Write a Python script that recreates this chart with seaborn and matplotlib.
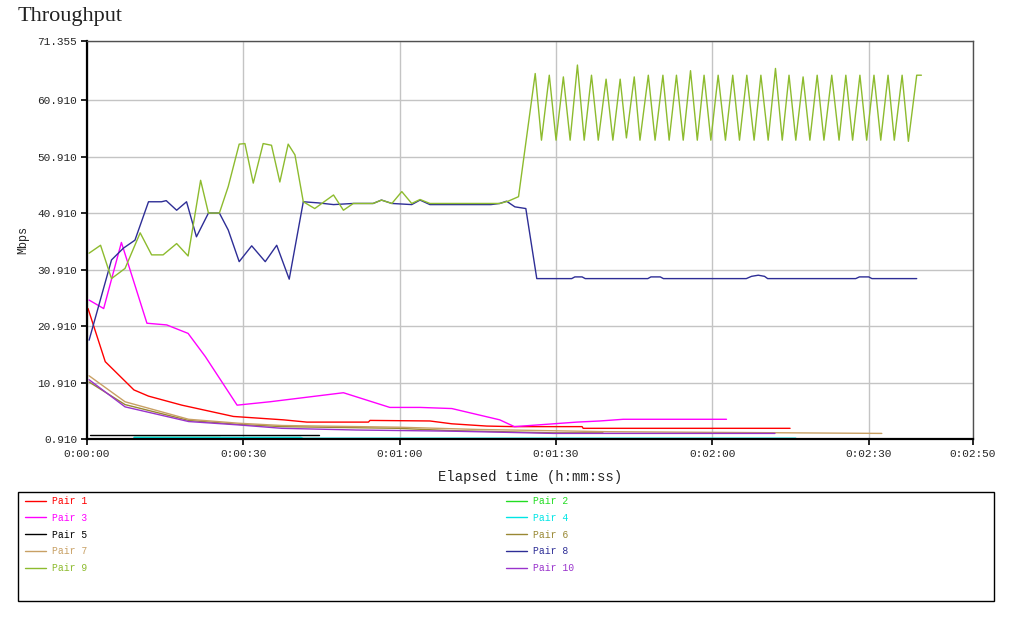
import matplotlib
matplotlib.use('Agg')
import matplotlib.pyplot as plt
import seaborn as sns
import pandas as pd
from matplotlib.patches import Rectangle
from matplotlib.lines import Line2D

# elapsed seconds / Mbps
pair1_t = [0.2, 3.5, 9.0, 11.8, 18.2, 28.1, 37.7, 42.2, 54.0, 54.3, 65.8, 70.0, 76.7, 81.8, 95.0, 95.2, 134.9]
pair1_v = [24.0, 14.6, 9.6, 8.5, 6.9, 4.9, 4.3, 3.9, 3.9, 4.2, 4.1, 3.6, 3.2, 3.1, 3.1, 2.8, 2.8]

pair2_t = [9.0, 25.5]
pair2_v = [1.3, 1.3]

pair3_t = [0.4, 3.2, 6.6, 11.5, 15.3, 19.4, 22.7, 28.8, 35.1, 49.2, 58.1, 63.9, 70.0, 79.2, 82.0,
           85.0, 89.5, 94.0, 98.4, 102.9, 122.7]
pair3_v = [25.5, 24.0, 35.7, 21.4, 21.1, 19.6, 15.5, 6.9, 7.5, 9.1, 6.5, 6.5, 6.3, 4.3, 3.1,
           3.3, 3.6, 3.9, 4.1, 4.4, 4.4]

pair4_t = [9.0, 41.0, 41.5, 136.0]
pair4_v = [1.2, 1.2, 1.05, 1.05]

pair5_t = [0.5, 44.5]
pair5_v = [1.7, 1.7]

pair6_t = [0.4, 7.3, 19.5, 29.1, 37.4, 59.7, 69.6, 75.0, 89.5, 99.0]
pair6_v = [11.0, 7.0, 4.2, 3.5, 3.1, 2.8, 2.4, 2.3, 2.0, 2.0]

pair7_t = [0.4, 7.3, 19.5, 29.1, 37.4, 59.7, 75.0, 100.0, 152.5]
pair7_v = [12.1, 7.5, 4.4, 3.7, 3.3, 3.0, 2.6, 2.2, 1.9]

pair8_t = [0.4, 4.7, 7.0, 9.2, 11.8, 14.3, 15.2, 17.2, 19.1, 21.0, 23.3, 25.4, 27.1, 29.2, 31.6,
           34.2, 36.4, 38.8, 41.5, 44.4, 47.3, 51.1, 54.9, 56.5, 58.5, 62.3, 63.9, 65.8, 72.0, 77.5,
           79.2, 80.5, 82.1, 84.2, 86.3, 93.0, 93.6, 95.0, 95.6, 107.6, 108.2, 110.0, 110.6, 126.5,
           127.5, 128.8, 130.0, 130.6, 147.5, 148.2, 150.0, 150.6, 159.2]
pair8_v = [18.4, 32.6, 34.7, 36.1, 42.9, 42.9, 43.1, 41.4, 42.9, 36.7, 40.9, 40.9, 37.9, 32.3, 35.1,
           32.3, 35.2, 29.2, 42.9, 42.7, 42.4, 42.6, 42.6, 43.2, 42.6, 42.4, 43.2, 42.4, 42.4, 42.4,
           42.6, 43.0, 42.0, 41.7, 29.3, 29.3, 29.6, 29.6, 29.3, 29.3, 29.6, 29.6, 29.3, 29.3,
           29.7, 29.9, 29.7, 29.3, 29.3, 29.6, 29.6, 29.3, 29.3]

pair9_t = [0.4, 2.6, 4.7, 7.3, 10.2, 12.4, 14.6, 17.2, 19.4, 21.8, 23.3, 25.4, 27.1, 29.2, 30.3,
           31.9, 33.8, 35.4, 37.0, 38.6, 39.9, 41.5, 43.7, 47.3, 49.2, 51.1, 54.9, 56.5, 58.5, 60.4,
           62.3, 63.9, 65.8, 72.0, 79.2, 80.8, 82.8,
           86.0, 87.2, 88.7, 90.0, 91.4, 92.7, 94.1, 95.4, 96.8, 98.1, 99.6, 100.9, 102.3, 103.5,
           105.0, 106.1, 107.7, 109.0, 110.5, 111.7, 113.1, 114.4, 115.8, 117.1, 118.4, 119.7,
           121.1, 122.5, 123.9, 125.2, 126.6, 128.0, 129.3, 130.7, 132.1, 133.4, 134.7, 136.0,
           137.4, 138.7, 140.1, 141.4, 142.9, 144.3, 145.6, 146.9, 148.3, 149.6, 151.0, 152.3,
           153.7, 154.9, 156.4, 157.6, 159.2, 160.1]
pair9_v = [33.8, 35.2, 29.3, 31.1, 37.4, 33.5, 33.5, 35.5, 33.3, 46.7, 40.9, 40.9, 45.6, 53.1, 53.2,
           46.2, 53.2, 52.9, 46.4, 53.1, 51.2, 42.9, 41.7, 44.1, 41.4, 42.6, 42.6, 43.2, 42.6, 44.7,
           42.6, 43.3, 42.6, 42.6, 42.6, 43.0, 43.8,
           65.6, 53.8, 65.3, 53.8, 65.0, 53.8, 67.1, 53.8, 65.3, 53.8, 64.6, 53.8, 64.6, 54.2,
           65.0, 53.8, 65.3, 53.8, 65.3, 53.8, 65.3, 53.8, 66.1, 53.8, 65.3, 53.8,
           65.3, 53.8, 65.3, 53.8, 65.3, 53.8, 65.3, 53.8, 66.5, 53.8, 65.3, 53.8,
           65.0, 53.8, 65.3, 53.8, 65.3, 53.8, 65.3, 53.8, 65.3, 53.8, 65.3, 53.8,
           65.3, 53.8, 65.3, 53.6, 65.3, 65.3]

pair10_t = [0.4, 7.3, 19.5, 29.1, 37.4, 51.7, 69.6, 79.9, 89.5, 132.0]
pair10_v = [11.4, 6.6, 4.0, 3.4, 2.8, 2.5, 2.3, 2.1, 1.9, 1.9]

pair_names = ['Pair 1', 'Pair 2', 'Pair 3', 'Pair 4', 'Pair 5',
              'Pair 6', 'Pair 7', 'Pair 8', 'Pair 9', 'Pair 10']
pair_colors = ['#FF0000', '#22DD22', '#FF00FF', '#00E5E5', '#000000',
               '#998833', '#C8A064', '#2E2E96', '#8DBB2E', '#9933CC']
pair_times = [pair1_t, pair2_t, pair3_t, pair4_t, pair5_t, pair6_t, pair7_t, pair8_t, pair9_t, pair10_t]
pair_values = [pair1_v, pair2_v, pair3_v, pair4_v, pair5_v, pair6_v, pair7_v, pair8_v, pair9_v, pair10_v]

x_ticks = [0, 30, 60, 90, 120, 150, 170]
x_labels = ['0:00:00', '0:00:30', '0:01:00', '0:01:30', '0:02:00', '0:02:30', '0:02:50']
y_ticks = [0.910, 10.910, 20.910, 30.910, 40.910, 50.910, 60.910, 71.355]
y_labels = ['0.910', '10.910', '20.910', '30.910', '40.910', '50.910', '60.910', '71.355']

df = pd.concat([pd.DataFrame({'time': t, 'mbps': v, 'pair': n})
                for n, t, v in zip(pair_names, pair_times, pair_values)])

sns.set_theme(style='white')
plt.rcParams['font.family'] = ['Liberation Mono', 'DejaVu Sans Mono']

fig = plt.figure(figsize=(10.27, 6.17), dpi=100)
ax = fig.add_axes([87 / 1027, 1 - 439 / 617, 886 / 1027, 398 / 617])

for name, color in zip(pair_names, pair_colors):
    sns.lineplot(data=df[df['pair'] == name], x='time', y='mbps', color=color, lw=1,
                 estimator=None, sort=False, ax=ax, legend=False)

ax.set_xlim(0, 170)
ax.set_ylim(0.910, 71.355)
ax.set_xticks(x_ticks)
ax.set_xticklabels(x_labels, fontsize=8)
ax.set_yticks(y_ticks)
ax.set_yticklabels(y_labels, fontsize=8)
ax.grid(True, color='#C4C4C4', lw=1)
ax.tick_params(direction='out', length=4, width=1.2, color='black', pad=3, left=True, bottom=True)
for side in ['left', 'bottom']:
    ax.spines[side].set_color('black')
    ax.spines[side].set_linewidth(1.6)
for side in ['top', 'right']:
    ax.spines[side].set_color('#505050')
    ax.spines[side].set_linewidth(1)

ax.set_xlabel('Elapsed time (h:mm:ss)', fontsize=10)
ax.set_ylabel('Mbps', fontsize=8.5)
ax.xaxis.set_label_coords(0.5, (439 - 470) / 398)
ax.yaxis.set_label_coords((29 - 87) / 886, 0.5)

fig.text(18 / 1027, 1 - 17 / 617, 'Throughput', ha='left', va='center', fontsize=16,
         family='Liberation Serif', color='#222222')

# legend: column-major order so pairs 1,3,5,7,9 sit left and 2,4,6,8,10 right
order = [0, 2, 4, 6, 8, 1, 3, 5, 7, 9]
handles = [Line2D([], [], color=pair_colors[i], lw=1) for i in order]
leg = fig.legend(handles, [pair_names[i] for i in order], ncol=2, loc='upper left',
                 bbox_to_anchor=(25 / 1027, 1 - 496 / 617), frameon=False, fontsize=7,
                 handlelength=2.2, handletextpad=0.6, columnspacing=43.0,
                 labelspacing=0.7, borderpad=0, borderaxespad=0)
for txt, i in zip(leg.get_texts(), order):
    txt.set_color(pair_colors[i])
fig.patches.append(Rectangle((18 / 1027, 1 - 601 / 617), 976 / 1027, 109 / 617,
                             transform=fig.transFigure, fill=False, ec='black', lw=1))

fig.savefig('out.png', dpi=100, facecolor='white')
